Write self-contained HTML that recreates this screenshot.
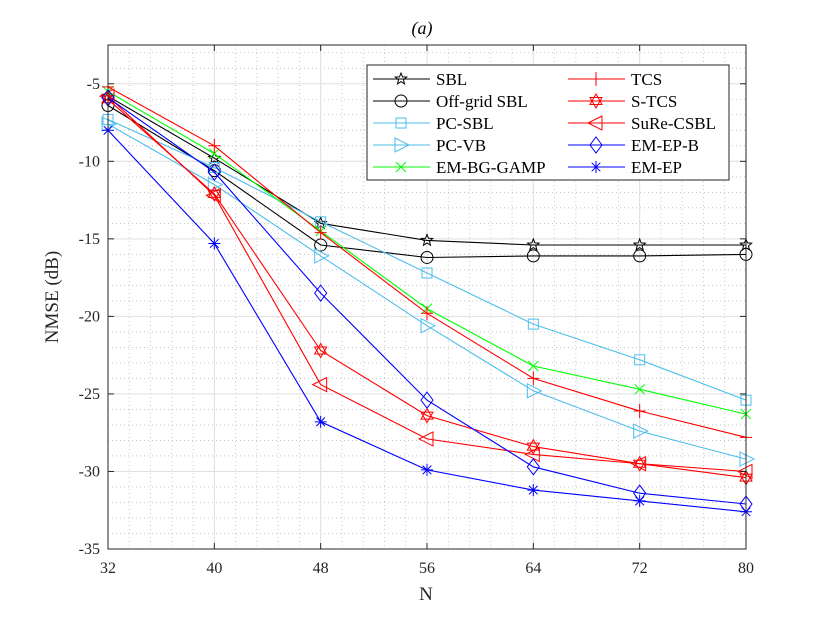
<!DOCTYPE html>
<html><head><meta charset="utf-8"><style>
html,body{margin:0;padding:0;background:#fff;}
svg{display:block;font-family:"Liberation Serif",serif;}
</style></head><body>
<svg id="chart" width="822" height="617" viewBox="0 0 822 617" xmlns="http://www.w3.org/2000/svg">
<rect width="822" height="617" fill="#fff"/>
<g id="grid"></g>
<g id="series"></g>
<g id="axes"></g>
<g id="legend"></g>
</svg>
<script>
const categories=[32,40,48,56,64,72,80];
const seriesNames=["SBL","Off-grid SBL","PC-SBL","PC-VB","EM-BG-GAMP","TCS","S-TCS","SuRe-CSBL","EM-EP-B","EM-EP"];
const sbl=[-5.8,-9.8,-14.0,-15.1,-15.4,-15.4,-15.4];
const offgrid=[-6.4,-10.6,-15.4,-16.2,-16.1,-16.1,-16.0];
const pcsbl=[-7.3,-10.4,-13.9,-17.2,-20.5,-22.8,-25.4];
const pcvb=[-7.6,-11.5,-16.1,-20.6,-24.8,-27.4,-29.2];
const gamp=[-5.5,-9.5,-14.5,-19.5,-23.2,-24.7,-26.3];
const tcs=[-5.2,-9.0,-14.6,-19.8,-24.0,-26.1,-27.8];
const stcs=[-6.0,-12.1,-22.2,-26.4,-28.4,-29.5,-30.4];
const sure=[-5.8,-12.2,-24.4,-27.9,-28.9,-29.5,-30.0];
const epb=[-5.9,-10.7,-18.5,-25.4,-29.7,-31.4,-32.1];
const ep=[-8.0,-15.3,-26.8,-29.9,-31.2,-31.9,-32.6];
const xTicks=[32,40,48,56,64,72,80];
const yTicks=[-5,-10,-15,-20,-25,-30,-35];

const L=108,R=746,T=45,B=549,XMIN=32,XMAX=80,YMIN=-35,YMAX=-2.5;
const xs=v=>L+(v-XMIN)/(XMAX-XMIN)*(R-L);
const ys=v=>B-(v-YMIN)/(YMAX-YMIN)*(B-T);
const NS="http://www.w3.org/2000/svg";
function mk(tag,attrs,parent){const e=document.createElementNS(NS,tag);for(const k in attrs)e.setAttribute(k,attrs[k]);parent.appendChild(e);return e;}
const grid=document.getElementById('grid'),axes=document.getElementById('axes'),ser=document.getElementById('series'),leg=document.getElementById('legend');

for(let v=XMIN;v<=XMAX+0.01;v+=1.6){const x=xs(v);const g=mk('line',{x1:x,x2:x,y1:T,y2:B,stroke:'#bbb','stroke-width':0.8,'stroke-dasharray':'1,3'},grid);

}
for(let v=YMIN;v<=YMAX;v+=1){const y=ys(v);const g=mk('line',{x1:L,x2:R,y1:y,y2:y,stroke:'#bbb','stroke-width':0.8,'stroke-dasharray':'1,3'},grid);

}
xTicks.forEach(v=>{const x=xs(v);const g=mk('line',{x1:x,x2:x,y1:T,y2:B,stroke:'#dfdfdf','stroke-width':1},grid);


mk('line',{x1:x,x2:x,y1:B,y2:B-6,stroke:'#262626'},axes);mk('line',{x1:x,x2:x,y1:T,y2:T+6,stroke:'#262626'},axes);
const t=mk('text',{x:x,y:573,'text-anchor':'middle','font-size':16,fill:'#262626'},axes);t.textContent=v;

});
yTicks.forEach(v=>{const y=ys(v);const g=mk('line',{x1:L,x2:R,y1:y,y2:y,stroke:'#dfdfdf','stroke-width':1},grid);


mk('line',{x1:L,x2:L+6,y1:y,y2:y,stroke:'#262626'},axes);mk('line',{x1:R,x2:R-6,y1:y,y2:y,stroke:'#262626'},axes);
const t=mk('text',{x:L-8,y:y+5,'text-anchor':'end','font-size':16,fill:'#262626'},axes);t.textContent=v;

});
const box=mk('rect',{x:L,y:T,width:R-L,height:B-T,fill:'none',stroke:'#262626','stroke-width':1},axes);


let t=mk('text',{x:422,y:34,'text-anchor':'middle','font-size':18,'font-style':'italic',fill:'#000'},axes);t.textContent='(a)';


t=mk('text',{x:426,y:600,'text-anchor':'middle','font-size':19,fill:'#262626'},axes);t.textContent='N';


t=mk('text',{x:0,y:0,'text-anchor':'middle','font-size':19,fill:'#262626',transform:'translate(58,297) rotate(-90)'},axes);t.textContent='NMSE (dB)';



function marker(type,x,y,c,p){
 const s={fill:'none',stroke:c,'stroke-width':1};
 if(type==='star'){let pts=[];for(let i=0;i<10;i++){const r=i%2?2.6:6,a=-Math.PI/2+i*Math.PI/5;pts.push((x+r*Math.cos(a)).toFixed(1)+','+(y+r*Math.sin(a)).toFixed(1));}mk('polygon',Object.assign({points:pts.join(' ')},s),p);}
 else if(type==='circle')mk('circle',Object.assign({cx:x,cy:y,r:6},s),p);
 else if(type==='square')mk('rect',Object.assign({x:x-5,y:y-5,width:10,height:10},s),p);
 else if(type==='tri-right')mk('polygon',Object.assign({points:`${x-6},${y-7} ${x+8},${y} ${x-6},${y+7}`},s),p);
 else if(type==='tri-left')mk('polygon',Object.assign({points:`${x+6},${y-7} ${x-8},${y} ${x+6},${y+7}`},s),p);
 else if(type==='x'){mk('path',Object.assign({d:`M${x-5} ${y-5}L${x+5} ${y+5}M${x-5} ${y+5}L${x+5} ${y-5}`},s),p);}
 else if(type==='plus'){mk('path',Object.assign({d:`M${x-6} ${y}H${x+6}M${x} ${y-7}V${y+7}`},s),p);}
 else if(type==='hex'){mk('polygon',Object.assign({points:`${x},${y-7} ${x+6},${y+3.5} ${x-6},${y+3.5}`},s),p);mk('polygon',Object.assign({points:`${x},${y+7} ${x+6},${y-3.5} ${x-6},${y-3.5}`},s),p);}
 else if(type==='diamond')mk('polygon',Object.assign({points:`${x},${y-8} ${x+6},${y} ${x},${y+8} ${x-6},${y}`},s),p);
 else if(type==='aster'){mk('path',Object.assign({d:`M${x-6} ${y}H${x+6}M${x} ${y-6}V${y+6}M${x-4.3} ${y-4.3}L${x+4.3} ${y+4.3}M${x-4.3} ${y+4.3}L${x+4.3} ${y-4.3}`},s),p);}
}
const K='#000',LB='#4DBEEE',G='#00FF00',Rd='#FF0000',Bl='#0000FF';
const defs=[[sbl,K,'star'],[offgrid,K,'circle'],[pcsbl,LB,'square'],[pcvb,LB,'tri-right'],[gamp,G,'x'],[tcs,Rd,'plus'],[stcs,Rd,'hex'],[sure,Rd,'tri-left'],[epb,Bl,'diamond'],[ep,Bl,'aster']];
defs.forEach((d,i)=>{
 const g=mk('g',{},ser);
 
 
 const pts=d[0].map((v,j)=>xs(categories[j]).toFixed(1)+','+ys(v).toFixed(1)).join(' ');
 mk('polyline',{points:pts,fill:'none',stroke:d[1],'stroke-width':1.1},g);
 d[0].forEach((v,j)=>marker(d[2],xs(categories[j]),ys(v),d[1],g));
});
const lb=mk('rect',{x:367,y:65,width:362,height:115,fill:'#fff',stroke:'#262626','stroke-width':1},leg);


defs.forEach((d,i)=>{
 const col=i<5?0:1,row=i%5;const x0=col?568:373,y=79+row*22;
 const g=mk('g',{},leg);
 
 
 mk('line',{x1:x0,x2:x0+57,y1:y,y2:y,stroke:d[1],'stroke-width':1.1},g);
 marker(d[2],x0+28,y,d[1],g);
 const tt=mk('text',{x:x0+63,y:y+6,'font-size':17,fill:'#000'},g);tt.textContent=seriesNames[i];
});
</script>
</body></html>
